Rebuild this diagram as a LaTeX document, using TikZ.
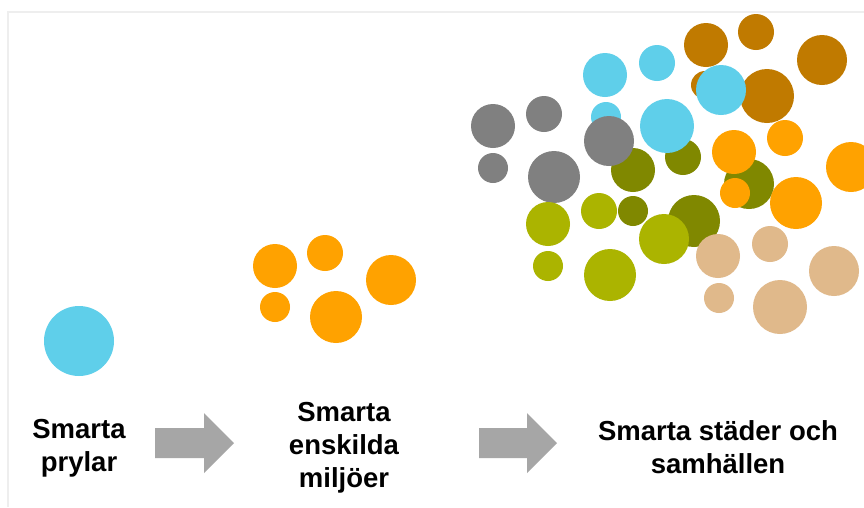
\documentclass[tikz,border=0pt]{standalone}
\usepackage{fontspec}
\setmainfont{Liberation Sans}
\definecolor{cblue}{HTML}{5FCFEA}
\definecolor{corange}{HTML}{FFA200}
\definecolor{cbrown}{HTML}{C07A00}
\definecolor{cgray}{HTML}{808080}
\definecolor{colive}{HTML}{808800}
\definecolor{cyg}{HTML}{ABB400}
\definecolor{ctan}{HTML}{E0B98B}
\definecolor{carrow}{HTML}{A6A6A6}
\definecolor{cframe}{HTML}{EEEEEE}
\tikzset{
  dot/.style={circle, inner sep=0pt, minimum size=#1, draw=none},
  lbl/.style={align=center, font=\fontsize{27.5}{33}\selectfont\bfseries, inner sep=0pt},
  bigarrow/.style={fill=carrow, draw=none}
}
\begin{document}
\begin{tikzpicture}[x=1pt,y=-1pt]
\useasboundingbox (0,0) rectangle (864,507);
\fill[white] (0,0) rectangle (864,507);
\draw[cframe, line width=2pt] (8,507) -- (8,12) -- (864,12);
% stage 1
\node[dot=70, fill=cblue] (b1) at (79,341) {};
% stage 2
\node[dot=44, fill=corange] (o1) at (275,266) {};
\node[dot=36, fill=corange] (o2) at (325,253) {};
\node[dot=50, fill=corange] (o3) at (391,280) {};
\node[dot=30, fill=corange] (o4) at (275,307) {};
\node[dot=52, fill=corange] (o5) at (336,317) {};
% stage 3 - brown
\node[dot=44, fill=cbrown] (br1) at (706,45) {};
\node[dot=36, fill=cbrown] (br2) at (756,32) {};
\node[dot=50, fill=cbrown] (br3) at (822,60) {};
\node[dot=28, fill=cbrown] (br4) at (705,85) {};
\node[dot=54, fill=cbrown] (br5) at (767,96) {};
% olive
\node[dot=44, fill=colive] (ol1) at (633,170) {};
\node[dot=36, fill=colive] (ol2) at (683,157) {};
\node[dot=50, fill=colive] (ol3) at (749,184) {};
\node[dot=30, fill=colive] (ol4) at (633,211) {};
\node[dot=52, fill=colive] (ol5) at (694,221) {};
% blue
\node[dot=44, fill=cblue] (bl1) at (605,75) {};
\node[dot=36, fill=cblue] (bl2) at (657,63) {};
\node[dot=50, fill=cblue] (bl3) at (721,90) {};
\node[dot=30, fill=cblue] (bl4) at (606,117) {};
\node[dot=54, fill=cblue] (bl5) at (667,126) {};
% gray
\node[dot=44, fill=cgray] (g1) at (493,126) {};
\node[dot=36, fill=cgray] (g2) at (544,114) {};
\node[dot=50, fill=cgray] (g3) at (609,141) {};
\node[dot=30, fill=cgray] (g4) at (493,168) {};
\node[dot=52, fill=cgray] (g5) at (554,177) {};
% orange
\node[dot=44, fill=corange] (or1) at (734,152) {};
\node[dot=36, fill=corange] (or2) at (785,138) {};
\node[dot=50, fill=corange] (or3) at (851,167) {};
\node[dot=30, fill=corange] (or4) at (735,193) {};
\node[dot=52, fill=corange] (or5) at (796,203) {};
% yellow-green
\node[dot=44, fill=cyg] (y1) at (548,224) {};
\node[dot=36, fill=cyg] (y2) at (599,211) {};
\node[dot=50, fill=cyg] (y3) at (664,239) {};
\node[dot=30, fill=cyg] (y4) at (548,266) {};
\node[dot=52, fill=cyg] (y5) at (610,275) {};
% tan
\node[dot=44, fill=ctan] (t1) at (718,256) {};
\node[dot=36, fill=ctan] (t2) at (770,244) {};
\node[dot=50, fill=ctan] (t3) at (834,271) {};
\node[dot=30, fill=ctan] (t4) at (719,298) {};
\node[dot=54, fill=ctan] (t5) at (780,307) {};
% arrows
\fill[bigarrow] (155,428) -- (204,428) -- (204,413) -- (234,443) -- (204,473) -- (204,458) -- (155,458) -- cycle;
\fill[bigarrow] (479,428) -- (527,428) -- (527,413) -- (557,443) -- (527,473) -- (527,458) -- (479,458) -- cycle;
% labels
\node[lbl] (l1) at (79,448) {Smarta\\prylar};
\node[lbl] (l2) at (344,448) {Smarta\\enskilda\\miljöer};
\node[lbl] (l3) at (718,447) {Smarta städer och\\samhällen};
\end{tikzpicture}
\end{document}
